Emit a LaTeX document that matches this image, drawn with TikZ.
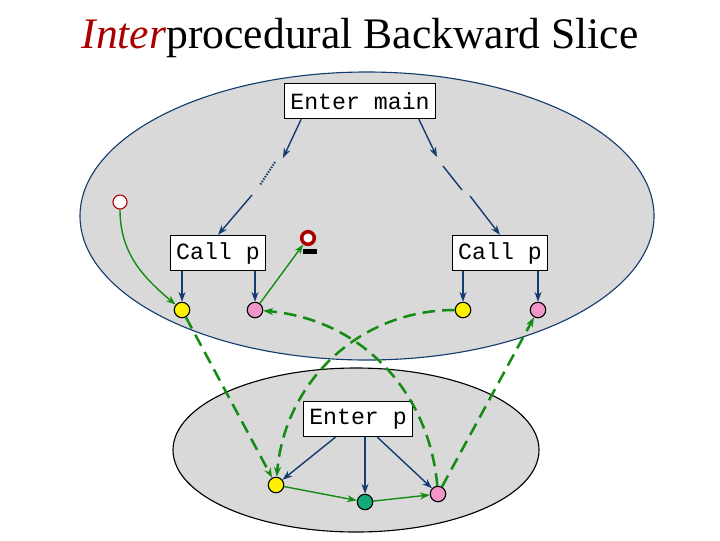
\documentclass[tikz,border=0pt]{standalone}
\usepackage{fontspec}
\setmainfont{Liberation Serif}
\setmonofont{Liberation Mono}
\usetikzlibrary{arrows.meta}
\definecolor{navy}{RGB}{20,60,110}
\definecolor{slgreen}{RGB}{20,140,20}
\definecolor{darkred}{RGB}{170,0,0}
\definecolor{pinky}{RGB}{240,150,200}
\definecolor{teal}{RGB}{20,170,120}
\tikzset{
  >={Stealth[length=7pt,width=5pt]},
  box/.style={draw, thick, fill=white, font=\ttfamily\fontsize{16.5}{16.5}\selectfont, minimum height=25pt, inner xsep=4pt},
  vertex/.style={circle, draw, thick, minimum size=11pt, inner sep=0pt},
  ctrl/.style={->, navy, line width=1pt},
  slice/.style={->, slgreen, line width=1pt},
  summ/.style={->, slgreen, line width=1.8pt, dash pattern=on 9pt off 5pt},
}
\begin{document}
\begin{tikzpicture}[x=0.025cm, y=-0.025cm]
\useasboundingbox (0,0) rectangle (720,540);
% procedure outlines
\draw[navy, thick, fill=black!15] (367,216) ellipse [x radius=287, y radius=144];
\draw[thick, fill=black!15] (356,450) ellipse [x radius=183, y radius=82];
\node (title) at (360,38) {\fontsize{31}{31}\selectfont\textcolor{darkred}{\textit{Inter}}procedural Backward Slice};

% main
\node[box] (main) at (360,101) {Enter main};
\node[box] (callA) at (218,253) {Call p};
\node[box] (callB) at (500,253) {Call p};
\node[vertex, fill=yellow] (ainA) at (182,310) {};
\node[vertex, fill=pinky] (aoutA) at (255,310) {};
\node[vertex, fill=yellow] (ainB) at (463,310) {};
\node[vertex, fill=pinky] (aoutB) at (538,310) {};
\node[vertex, draw=darkred, fill=white, minimum size=10pt, line width=0.8pt] (crit) at (120,202) {};
\node[vertex, draw=darkred, fill=white, minimum size=9pt, line width=2.5pt] (use) at (308,238) {};
\fill (303,249) rectangle (317,254);

% p
\node[box] (entp) at (358,419) {Enter p};
\node[vertex, fill=yellow] (fin) at (276,485) {};
\node[vertex, fill=teal] (body) at (365,502) {};
\node[vertex, fill=pinky] (fout) at (438,494) {};

% control edges
\coordinate (l1) at (283,158);
\coordinate (l2) at (275,162);
\coordinate (l3) at (260,185);
\coordinate (l4) at (252,195);
\coordinate (r1) at (437,157);
\coordinate (r2) at (443,166);
\coordinate (r3) at (462,190);
\coordinate (r4) at (470,196);
\draw[ctrl] (main.south west) ++(17,0) -- (l1);
\draw[navy, line width=1.5pt, dash pattern=on 1pt off 1pt] (l2) -- (l3);
\draw[ctrl] (l4) -- (callA.north);
\draw[ctrl] (main.south east) ++(-17,0) -- (r1);
\draw[navy, line width=1pt] (r2) -- (r3);
\draw[ctrl] (r4) -- (callB.north);
\draw[ctrl] (callA.south -| ainA) -- (ainA);
\draw[ctrl] (callA.south -| aoutA) -- (aoutA);
\draw[ctrl] (callB.south -| ainB) -- (ainB);
\draw[ctrl] (callB.south -| aoutB) -- (aoutB);
\draw[ctrl] (entp) -- (fin);
\draw[ctrl] (entp.south -| body) -- (body);
\draw[ctrl] (entp) -- (fout);

% slice edges
\draw[slice] (crit) to[out=-90, in=140] (ainA);
\draw[slice] (aoutA) -- (use);
\draw[slice] (fin) -- (body);
\draw[slice] (body) -- (fout);
\draw[summ] (ainA) -- (fin);
\draw[summ] (ainB) to[out=180, in=85] (fin);
\draw[summ] (fout) to[out=95, in=-5] (aoutA);
\draw[summ] (fout) -- (aoutB);
\end{tikzpicture}
\end{document}
